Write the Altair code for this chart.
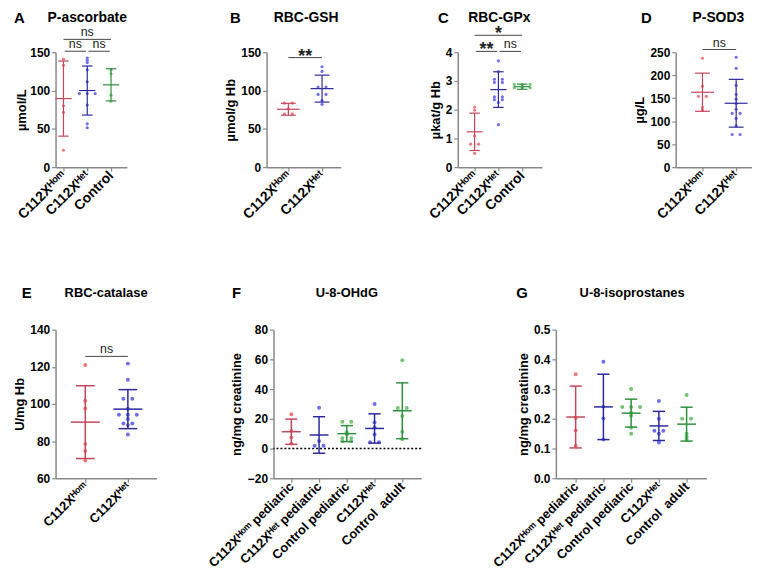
import altair as alt
import pandas as pd
from collections import Counter

FONT = "Liberation Sans"
HOM = "C112X\u1D34\u1D52\u1D50"
HET = "C112X\u1D34\u1D49\u1D57"
KINDS = ["Hom", "Het", "Ctrl"]
PT_FILL = ["#f07a7a", "#6f6fe8", "#74c474"]
LINE_COL = ["#c4465a", "#2a2a9c", "#2e8f3e"]
AX = "#888888"
CAP = 0.22
MW = 0.34

# ---------------- data ----------------
# A  P-ascorbate
a_labels = [HOM, HET, "Control"]
a_kinds = ["Hom", "Het", "Ctrl"]
a_hom = [141, 133, 80, 71.5, 22]
a_het = [142.5, 139.5, 136.5, 127, 111.5, 96, 96, 96, 81, 56.5, 51.5]
a_ctrl = [127, 122, 94, 86]
a_mean = [89.5, 100.0, 107.5]
a_sd = [49.0, 32.0, 21.0]
a_sig = [(0, 2, 166.8, "ns"), (0, 1, 151.3, "ns"), (1, 2, 151.3, "ns")]

# B  RBC-GSH
b_labels = [HOM, HET]
b_kinds = ["Hom", "Het"]
b_hom = [83.5, 83.5, 76, 69.5, 69.5]
b_het = [131, 125, 104.5, 104.5, 95, 95, 87, 82]
b_mean = [75.6, 102.5]
b_sd = [7.8, 17.6]
b_sig = [(0, 1, 143.0, "**")]

# C  RBC-GPx
c_labels = [HOM, HET, "Control"]
c_kinds = ["Hom", "Het", "Ctrl"]
c_hom = [2.09, 1.98, 1.09, 0.80, 0.80, 0.48]
c_het = [3.70, 3.33, 3.06, 3.06, 2.95, 2.95, 2.45, 2.45, 2.35, 2.35, 2.25, 1.48]
c_ctrl = [2.88, 2.88, 2.88, 2.76, 2.76, 2.76]
c_mean = [1.23, 2.70, 2.80]
c_sd = [0.65, 0.62, 0.09]
c_sig = [(0, 2, 4.59, "*"), (0, 1, 4.03, "**"), (1, 2, 4.03, "ns")]

# D  P-SOD3
d_labels = [HOM, HET]
d_kinds = ["Hom", "Het"]
d_hom = [237, 176, 154, 154, 130, 124]
d_het = [239, 215, 178, 158, 148, 138, 126, 117, 117, 106, 90, 71, 71]
d_mean = [163.0, 139.0]
d_sd = [41.5, 52.0]
d_sig = [(0, 1, 256.0, "ns")]

# E  RBC-catalase
e_labels = [HOM, HET]
e_kinds = ["Hom", "Het"]
e_hom = [121, 101.7, 97.5, 78.4, 74.7, 69.5]
e_het = [121.7, 113, 102.8, 102.8, 97.4, 94.2, 94.2, 94.2, 91.9, 89.5, 89.5, 88.6, 83.5]
e_mean = [90.2, 97.2]
e_sd = [19.6, 10.5]
e_sig = [(0, 1, 125.6, "ns")]

# F  U-8-OHdG
f_labels = [HOM + " pediatric", HET + " pediatric", "Control pediatric", HET, "Control\u00a0 adult"]
f_kinds = ["Hom", "Het", "Ctrl", "Het", "Ctrl"]
f_hom_ped = [23, 12, 7.5, 3.3]
f_het_ped = [27.4, 5.0, 1.9, 1.9]
f_ctrl_ped = [18, 18, 11, 9.5, 7, 7, 5, 5]
f_het_adult = [30, 17.6, 14.2, 9.5, 4.2, 4.2]
f_ctrl_adult = [59.4, 27.3, 27.3, 21.8, 11.3, 6.2]
f_mean = [11.3, 9.1, 10.0, 13.5, 25.4]
f_sd = [8.5, 12.3, 5.4, 9.85, 18.8]

# G  U-8-isoprostanes
g_labels = f_labels
g_kinds = f_kinds
g_hom_ped = [0.35, 0.203, 0.161, 0.109]
g_het_ped = [0.392, 0.241, 0.201, 0.13]
g_ctrl_ped = [0.30, 0.24, 0.24, 0.24, 0.22, 0.21, 0.17, 0.15]
g_het_adult = [0.26, 0.20, 0.16, 0.16, 0.15, 0.12]
g_ctrl_adult = [0.28, 0.20, 0.20, 0.15, 0.14, 0.13]
g_mean = [0.206, 0.240, 0.219, 0.176, 0.182]
g_sd = [0.104, 0.110, 0.047, 0.049, 0.057]

# ---------------- layout (page pixels) ----------------
ROW1 = dict(top=48, height=116, atop=6, abot=248, tbase=17, lbase=18, tfs=14,
            xfs=14, ps=10, lw=1.2, gap=8)
ROW2 = dict(top=330, height=150, atop=250, abot=330, tbase=297, lbase=298, tfs=13,
            xfs=13, ps=16, lw=1.5, gap=9)

ONE = alt.Data(values=[{"a": 1}])


def panel(labels, kinds, groups, means, sds, ydom, yvals, yfmt, ytitle, title,
          letter, sigs, lay, row, zero_line=False):
    n = len(labels)
    step = lay["step"]
    width = lay["right"] - lay["left"]
    d0 = (lay["left"] - lay["cat0"]) / step
    d1 = (lay["right"] - lay["cat0"]) / step
    gap = row["gap"] / step

    recs = []
    for i, (vals, k) in enumerate(zip(groups, kinds)):
        cnt = Counter(vals)
        seen = Counter()
        for v in vals:
            m = cnt[v]
            j = seen[v]
            seen[v] += 1
            recs.append({"x": i + (j - (m - 1) / 2) * gap, "v": v, "kind": k})
    pts = pd.DataFrame(recs)

    eb = pd.DataFrame({"i": list(range(n)), "mean": means, "sd": sds, "kind": kinds})
    eb["lo"] = eb["mean"] - eb["sd"]
    eb["hi"] = eb["mean"] + eb["sd"]
    eb["c1"] = eb["i"] - CAP
    eb["c2"] = eb["i"] + CAP
    eb["m1"] = eb["i"] - MW
    eb["m2"] = eb["i"] + MW

    xs = alt.Scale(domain=[d0, d1], nice=False, zero=False)
    ys = alt.Scale(domain=ydom, nice=False, zero=False)
    fill_sc = alt.Scale(domain=KINDS, range=PT_FILL)
    line_sc = alt.Scale(domain=KINDS, range=LINE_COL)

    label_js = "[" + ",".join("'%s'" % s for s in labels) + "][datum.value]"
    xaxis = alt.Axis(values=list(range(n)), labelExpr=label_js, title=None, grid=False,
                     labelAngle=-45, labelAlign="right", labelBaseline="middle",
                     labelFontSize=row["xfs"], labelFontWeight="bold", labelFont=FONT,
                     labelColor="black", labelPadding=2, tickSize=4, tickColor=AX,
                     tickWidth=1.2, domainColor=AX, domainWidth=1.5,
                     labelOverlap=False, labelFlush=False)
    yaxis = alt.Axis(values=yvals, format=yfmt, title=ytitle, grid=False,
                     labelFontSize=12, labelFontWeight="bold", labelFont=FONT,
                     labelColor="black", labelPadding=2, tickSize=4, tickColor=AX,
                     tickWidth=1.2, domainColor=AX, domainWidth=1.5,
                     titleFont=FONT, titleFontSize=13, titleFontWeight="bold",
                     titleColor="black", titlePadding=lay.get("tpad", 3),
                     labelOverlap=False, labelFlush=False)

    def X(f):
        return alt.X(f, scale=xs, axis=xaxis)

    def Y(f):
        return alt.Y(f, scale=ys, axis=yaxis)

    layers = []
    if zero_line:
        layers.append(alt.Chart(pd.DataFrame({"z": [0]})).mark_rule(
            color="black", strokeDash=[2, 2], strokeWidth=1.5).encode(y=Y("z:Q")))

    layers.append(alt.Chart(pts).mark_circle(size=row["ps"], opacity=1).encode(
        x=X("x:Q"), y=Y("v:Q"),
        fill=alt.Fill("kind:N", scale=fill_sc, legend=None)))

    lw = row["lw"]
    layers.append(alt.Chart(eb).mark_rule(strokeWidth=lw).encode(
        x=X("i:Q"), y=Y("lo:Q"), y2="hi:Q",
        stroke=alt.Stroke("kind:N", scale=line_sc, legend=None)))
    for yf, x1, x2 in [("hi", "c1", "c2"), ("lo", "c1", "c2"), ("mean", "m1", "m2")]:
        layers.append(alt.Chart(eb).mark_rule(strokeWidth=lw).encode(
            x=X(x1 + ":Q"), x2=x2 + ":Q", y=Y(yf + ":Q"),
            stroke=alt.Stroke("kind:N", scale=line_sc, legend=None)))

    if sigs:
        srecs = []
        for (i1, i2, yv, lab) in sigs:
            ins = 0.05 if i2 - i1 == 1 and n > 2 else 0.0
            srecs.append({"x1": i1 + ins, "x2": i2 - ins, "xm": (i1 + i2) / 2,
                          "y": yv, "lab": lab, "star": lab != "ns"})
        sd = pd.DataFrame(srecs)
        layers.append(alt.Chart(sd).mark_rule(color="#444444", strokeWidth=1).encode(
            x=X("x1:Q"), x2="x2:Q", y=Y("y:Q")))
        ns = sd[~sd["star"]]
        st = sd[sd["star"]]
        if len(ns):
            layers.append(alt.Chart(ns).mark_text(
                font=FONT, fontSize=12.5, color="#222222", baseline="alphabetic", dy=-3).encode(
                x=X("xm:Q"), y=Y("y:Q"), text="lab:N"))
        if len(st):
            layers.append(alt.Chart(st).mark_text(
                font=FONT, fontSize=18, fontWeight="bold", color="#222222",
                baseline="alphabetic", dy=4).encode(
                x=X("xm:Q"), y=Y("y:Q"), text="lab:N"))

    left, top = lay["left"], row["top"]
    layers.append(alt.Chart(ONE).mark_text(
        text=title, font=FONT, fontSize=row["tfs"], fontWeight="bold", color="black",
        align="center", baseline="alphabetic").encode(
        x=alt.value(lay["tcx"] - left), y=alt.value(row["tbase"] - top)))
    layers.append(alt.Chart(ONE).mark_text(
        text=letter, font=FONT, fontSize=15, fontWeight="bold", color="black",
        align="left", baseline="alphabetic").encode(
        x=alt.value(lay["lx"] - left), y=alt.value(row["lbase"] - top)))
    # invisible layout anchor that fixes this panel's outer extent
    layers.append(alt.Chart(ONE).mark_rule(strokeOpacity=0, strokeWidth=0.1).encode(
        x=alt.value(lay["anchor"] - left),
        y=alt.value(row["atop"] - top), y2=alt.value(row["abot"] - top)))

    return alt.layer(*layers).properties(width=width, height=row["height"])


A = panel(a_labels, a_kinds, [a_hom, a_het, a_ctrl], a_mean, a_sd, [0, 150], [0, 50, 100, 150],
          "d", "µmol/L", "P-ascorbate", "A", a_sig,
          dict(left=50, right=122, cat0=58, step=24, anchor=8, lx=8, tcx=82, tpad=1), ROW1)
B = panel(b_labels, b_kinds, [b_hom, b_het], b_mean, b_sd, [0, 150], [0, 50, 100, 150],
          "d", "µmol/g Hb", "RBC-GSH", "B", b_sig,
          dict(left=262, right=337, cat0=284, step=34, anchor=122, lx=225, tcx=302), ROW1)
C = panel(c_labels, c_kinds, [c_hom, c_het, c_ctrl], c_mean, c_sd, [0, 4], [0, 1, 2, 3, 4],
          "d", "µkat/g Hb", "RBC-GPx", "C", c_sig,
          dict(left=455, right=540, cat0=472, step=24, anchor=337, lx=435, tcx=497), ROW1)
D = panel(d_labels, d_kinds, [d_hom, d_het], d_mean, d_sd, [0, 250], [0, 50, 100, 150, 200, 250],
          "d", "µg/L", "P-SOD3", "D", d_sig,
          dict(left=675, right=752, cat0=702, step=34, anchor=540, lx=640, tcx=718), ROW1)
E = panel(e_labels, e_kinds, [e_hom, e_het], e_mean, e_sd, [60, 140], [60, 80, 100, 120, 140],
          "d", "U/mg Hb", "RBC-catalase", "E", e_sig,
          dict(left=56, right=158, cat0=86, step=43, anchor=8, lx=22, tcx=107), ROW2)
F = panel(f_labels, f_kinds, [f_hom_ped, f_het_ped, f_ctrl_ped, f_het_adult, f_ctrl_adult],
          f_mean, f_sd, [-20, 80], [-20, 0, 20, 40, 60, 80], "d", "ng/mg creatinine",
          "U-8-OHdG", "F", [],
          dict(left=276, right=425, cat0=294, step=28, anchor=158, lx=234, tcx=350, tpad=4),
          ROW2, zero_line=True)
G = panel(g_labels, g_kinds, [g_hom_ped, g_het_ped, g_ctrl_ped, g_het_adult, g_ctrl_adult],
          g_mean, g_sd, [0, 0.5], [0, 0.1, 0.2, 0.3, 0.4, 0.5], ".1f", "ng/mg creatinine",
          "U-8-isoprostanes", "G", [],
          dict(left=560, right=712, cat0=580, step=28, anchor=425, lx=520, tcx=637), ROW2)

row1 = alt.hconcat(A, B, C, D, spacing=0)
row2 = alt.hconcat(E, F, G, spacing=0)
chart = (alt.vconcat(row1, row2, spacing=0)
         .properties(padding=0)
         .configure(font=FONT)
         .configure_view(strokeWidth=0))

chart.save("out.html", embed_options={"renderer": "svg", "actions": False})
